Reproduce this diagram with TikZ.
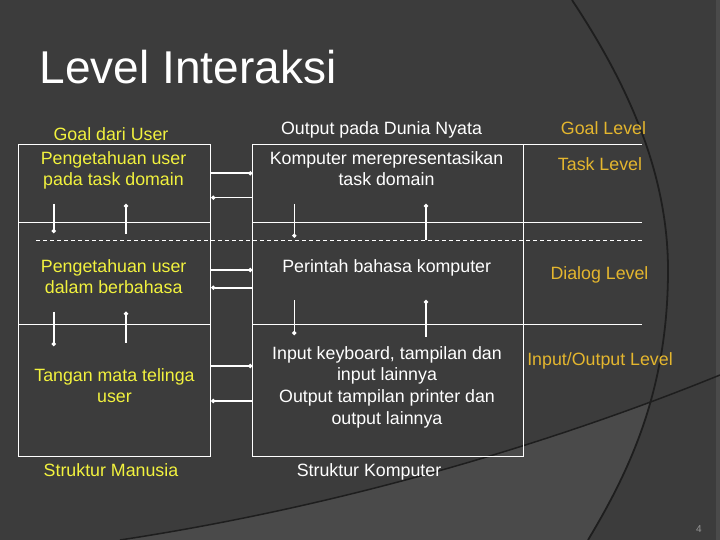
\documentclass[tikz,border=0pt]{standalone}
\usepackage{fontspec}
\setmainfont{Liberation Sans}
\usetikzlibrary{arrows.meta}

\definecolor{slidebg}{RGB}{60,60,60}
\definecolor{slidelite}{RGB}{74,74,74}
\definecolor{arcline}{RGB}{30,30,30}
\definecolor{usertxt}{RGB}{242,242,62}
\definecolor{lvltxt}{RGB}{228,182,46}
\definecolor{pgnum}{RGB}{150,150,150}

% lines of a label, baseline on the first one
\newcommand{\txtlines}[1]{\begin{tabular}[t]{@{}c@{}}#1\end{tabular}}

\begin{document}
\begin{tikzpicture}[x=1pt, y=-1pt,
  frame/.style={draw=white, line width=1pt, inner sep=0pt, anchor=north west},
  sep/.style={white, line width=1pt},
  link/.style={white, line width=1.6pt, -{Circle[length=4pt,width=4pt]}},
  txt/.style={inner sep=0pt, anchor=base, font=\fontsize{17.8}{21.6}\selectfont},
  usr/.style={txt, usertxt},
  cmp/.style={txt, white},
  lvl/.style={txt, lvltxt}]

  % slide background
  \fill[slidebg] (0,0) rectangle (720,540);
  \useasboundingbox (0,0) rectangle (720,540);
  \begin{scope}
    \clip (0,0) -- (572,0) .. controls (625,80) and (668,170) .. (668,270)
      .. controls (668,390) and (630,470) .. (588,540) -- (0,540) -- cycle;
    \fill[slidelite] (120,540) .. controls (350,505) and (560,440) .. (720,375)
      -- (720,540) -- cycle;
  \end{scope}
  \fill[slidelite] (716,0) rectangle (720,540);
  \draw[arcline, line width=1.8pt] (572,0) .. controls (625,80) and (668,170) .. (668,270)
    .. controls (668,390) and (630,470) .. (588,540);
  \draw[arcline, line width=1.5pt] (120,540) .. controls (350,505) and (560,440) .. (720,375);

  % title
  \node[white, anchor=base west, inner sep=0pt, font=\fontsize{46}{50}\selectfont]
    (title) at (39.5,83.5) {Level Interaksi};

  % the two structures
  \node[frame, minimum width=192pt, minimum height=311.7pt] (human) at (18.3,144.3) {};
  \node[frame, minimum width=270.2pt, minimum height=311.7pt] (comp) at (252.3,144.3) {};

  % level dividers
  \draw[sep] (comp.north east) -- (642,144.3);
  \foreach \y in {222.3,324.3} {
    \draw[sep] (human.west |- 0,\y) -- (human.east |- 0,\y);
    \draw[sep] (comp.west |- 0,\y) -- (642,\y);
  }
  \draw[sep, dash pattern=on 4pt off 3pt] (36,240) -- (642,240);

  % links between user and computer
  \foreach \ya/\yb in {173.3/197.7, 270/287.7, 366/401} {
    \draw[link] (human.east |- 0,\ya) -- (comp.west |- 0,\ya);
    \draw[link] (comp.west |- 0,\yb) -- (human.east |- 0,\yb);
  }
  % links between levels
  \foreach \x/\ya/\yb in {53.7/204/233, 53.7/311.7/346, 294.3/204/237.7, 294.3/300/335,
                          126/234/204, 126/342.7/311.7, 426/240/204, 426/336.7/300}
    \draw[link] (\x,\ya) -- (\x,\yb);

  % user side
  \node[usr] (goal) at (111,141) {Goal dari User};
  \node[usr] (ptask) at (113.5,164.3) {\txtlines{Pengetahuan user\\pada task domain}};
  \node[usr] (pbhs) at (113.7,272.3) {\txtlines{Pengetahuan user\\dalam berbahasa}};
  \node[usr] (tangan) at (114.5,381) {\txtlines{Tangan mata telinga\\user}};
  \node[usr] (smanu) at (111,476) {Struktur Manusia};

  % computer side
  \node[cmp] (outp) at (381.5,135) {Output pada Dunia Nyata};
  \node[cmp] (krep) at (386.5,164.3) {\txtlines{Komputer merepresentasikan\\task domain}};
  \node[cmp] (perin) at (386.7,272.3) {Perintah bahasa komputer};
  \node[cmp] (inpt) at (387,359.3) {\txtlines{Input keyboard, tampilan dan\\input lainnya\\Output tampilan printer dan\\output lainnya}};
  \node[cmp] (skomp) at (369,476) {Struktur Komputer};

  % level names
  \node[lvl] (lgoal) at (603.5,135) {Goal Level};
  \node[lvl] (ltask) at (600,170.7) {Task Level};
  \node[lvl] (ldial) at (599.5,279.3) {Dialog Level};
  \node[lvl] (lio) at (600,365.7) {Input/Output Level};

  \node[pgnum, anchor=base, inner sep=0pt, font=\fontsize{10}{12}\selectfont] (pnum) at (699,532) {4};

\end{tikzpicture}
\end{document}
